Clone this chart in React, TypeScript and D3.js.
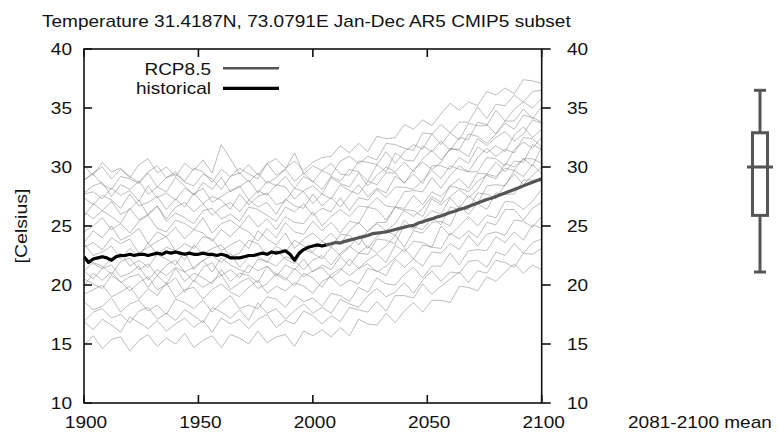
import React from "react";
import * as d3 from "d3";

const W = 778;
const H = 432;

const title = "Temperature 31.4187N, 73.0791E Jan-Dec AR5 CMIP5 subset";
const yLabel = "[Celsius]";
const boxLabel = "2081-2100 mean";
const legendLabels = ["RCP8.5", "historical"];
const xTicks = [1900, 1950, 2000, 2050, 2100];
const yTicks = [10, 15, 20, 25, 30, 35, 40];

// individual model runs, sampled every 4 years 1900..2100
const modelYears = d3.range(1900, 2101, 4);
const model01 = [30.1, 29.3, 30.4, 29.6, 29.9, 29.1, 30.2, 30.7, 29.5, 30.0, 29.2, 30.3, 29.7, 30.6, 29.5, 31.9, 30.7, 29.4, 30.2, 29.3, 30.3, 30.7, 29.9, 30.5, 29.7, 30.4, 30.8,
  30.9, 31.8, 31.2, 32.0, 31.3, 32.6, 32.4, 32.5, 33.6, 33.2, 34.0, 33.5, 34.5, 35.4, 34.8, 35.5, 35.2, 36.4, 36.1, 36.7, 36.2, 37.4, 37.3, 37.1];
const model02 = [28.9, 29.5, 30.0, 29.0, 29.8, 29.2, 28.7, 29.6, 30.1, 29.1, 29.4, 28.8, 29.9, 29.6, 28.7, 29.8, 29.2, 29.9, 29.4, 29.0, 30.3, 29.3, 29.8, 31.2, 29.4, 30.1, 29.7,
  29.3, 30.5, 30.9, 30.3, 30.9, 30.6, 32.0, 31.9, 31.6, 31.4, 32.9, 32.8, 33.6, 32.9, 33.8, 33.8, 35.1, 34.1, 35.3, 35.2, 36.1, 35.5, 36.4, 36.5];
const model03 = [28.9, 29.4, 28.5, 28.1, 29.2, 29.0, 28.6, 29.5, 28.3, 29.1, 29.6, 28.7, 28.4, 29.4, 29.0, 28.1, 29.2, 29.5, 28.7, 29.5, 28.6, 29.1, 29.8, 28.8, 29.5, 28.7, 29.7,
  30.3, 29.4, 29.3, 30.5, 30.4, 30.2, 31.3, 30.3, 31.3, 31.9, 31.5, 32.8, 31.9, 32.9, 32.3, 33.7, 33.5, 33.5, 34.8, 33.9, 34.9, 35.5, 35.0, 35.8];
const model04 = [27.8, 28.4, 28.7, 27.5, 28.5, 28.1, 28.8, 27.7, 28.3, 27.9, 29.1, 28.4, 27.6, 28.7, 28.1, 29.1, 27.9, 28.3, 28.9, 27.8, 28.8, 28.4, 29.2, 28.2, 29.2, 28.8, 28.1,
  29.2, 28.8, 29.8, 29.6, 28.8, 30.2, 29.6, 31.2, 30.6, 30.5, 31.8, 31.3, 32.2, 31.4, 32.5, 32.3, 33.8, 33.6, 32.8, 33.9, 33.9, 34.9, 34.1, 35.1];
const model05 = [27.7, 27.9, 27.3, 28.2, 27.6, 28.0, 27.1, 28.4, 27.4, 27.8, 27.2, 28.2, 27.7, 28.2, 27.0, 27.5, 28.0, 28.4, 27.2, 28.0, 27.6, 28.5, 28.3, 27.3, 28.0, 28.4, 27.7,
  29.1, 28.6, 28.3, 29.5, 28.4, 29.3, 30.0, 29.6, 30.4, 29.6, 30.7, 31.4, 30.6, 31.5, 31.5, 32.8, 32.6, 32.0, 32.8, 33.7, 33.2, 34.4, 34.2, 33.8];
const model06 = [27.4, 26.8, 27.6, 27.2, 26.5, 27.7, 26.7, 27.0, 27.5, 26.4, 27.3, 26.6, 27.8, 26.9, 27.5, 27.2, 26.4, 27.7, 26.8, 27.5, 27.8, 26.8, 27.1, 28.2, 27.9, 26.9, 27.7,
  27.3, 28.5, 28.0, 27.7, 28.8, 28.5, 29.5, 29.5, 28.6, 29.8, 30.4, 29.8, 30.4, 31.6, 31.4, 30.9, 32.4, 31.8, 32.5, 33.0, 32.2, 32.8, 34.0, 33.7];
const model07 = [25.8, 26.9, 26.3, 27.1, 26.0, 26.4, 27.2, 25.9, 26.7, 25.6, 26.6, 27.0, 26.2, 26.9, 25.9, 26.6, 27.0, 26.2, 27.2, 26.6, 27.0, 26.0, 27.3, 26.7, 26.5, 27.7, 26.7,
  27.4, 26.6, 27.6, 28.5, 27.5, 28.2, 27.8, 29.2, 28.7, 29.4, 28.6, 30.1, 30.1, 29.8, 30.8, 30.3, 31.7, 31.2, 31.8, 31.3, 32.7, 33.4, 32.5, 33.2];
const model08 = [26.2, 25.6, 26.3, 25.8, 25.2, 26.5, 25.5, 26.0, 26.7, 25.4, 26.1, 25.7, 25.2, 26.3, 26.5, 25.6, 26.0, 25.4, 26.6, 26.4, 25.9, 25.4, 26.6, 26.2, 26.9, 25.9, 26.5,
  26.2, 27.4, 26.3, 27.4, 27.2, 28.1, 27.4, 28.3, 28.3, 28.1, 28.9, 29.7, 29.0, 30.1, 29.8, 29.6, 30.8, 31.6, 30.9, 31.5, 31.2, 32.5, 32.4, 31.7];
const model09 = [24.5, 25.0, 25.7, 24.7, 25.2, 24.4, 25.4, 25.9, 24.8, 24.5, 25.5, 25.2, 24.7, 25.7, 24.4, 25.2, 25.5, 24.9, 25.9, 24.9, 25.6, 24.7, 25.8, 25.3, 25.2, 26.2, 25.0,
  25.8, 26.4, 25.8, 26.7, 26.6, 27.4, 26.7, 26.6, 27.9, 28.0, 27.9, 29.1, 28.2, 29.3, 30.1, 29.6, 29.6, 30.8, 30.7, 30.1, 31.5, 32.1, 31.6, 32.5];
const model10 = [23.6, 24.6, 24.0, 25.0, 23.8, 24.2, 24.8, 23.5, 24.5, 24.1, 24.9, 23.9, 24.7, 24.4, 23.7, 24.7, 24.1, 24.9, 24.5, 23.7, 24.8, 24.0, 25.3, 24.5, 24.3, 25.4, 24.6,
  25.3, 24.4, 25.4, 25.2, 26.6, 26.4, 25.5, 26.6, 26.5, 27.6, 26.8, 27.9, 27.5, 28.4, 29.0, 28.2, 29.5, 29.4, 30.4, 29.6, 30.5, 30.4, 31.9, 31.5];
const model11 = [23.2, 23.6, 23.0, 24.0, 23.5, 23.9, 22.7, 23.2, 23.7, 24.1, 22.9, 23.5, 23.1, 24.1, 23.9, 22.9, 23.4, 23.8, 23.1, 24.6, 23.9, 23.4, 24.4, 23.1, 23.9, 24.4, 23.7,
  24.4, 23.5, 24.6, 25.3, 24.5, 25.3, 25.3, 26.6, 26.3, 25.8, 26.5, 27.5, 27.0, 28.4, 28.2, 27.9, 28.8, 29.3, 29.0, 30.3, 30.0, 30.7, 30.1, 31.7];
const model12 = [23.5, 22.5, 22.8, 23.3, 22.2, 23.1, 22.4, 23.6, 22.6, 23.2, 22.9, 22.1, 23.4, 22.6, 23.1, 23.4, 22.4, 22.7, 23.8, 23.5, 22.5, 23.3, 22.8, 23.8, 23.3, 22.8, 23.7,
  23.2, 24.3, 24.2, 23.4, 24.6, 25.2, 24.6, 25.2, 26.4, 26.3, 25.8, 27.3, 26.8, 27.5, 28.1, 27.4, 28.1, 29.4, 29.2, 29.9, 29.7, 30.7, 30.7, 30.3];
const model13 = [22.5, 21.8, 21.4, 22.3, 22.7, 21.6, 22.1, 21.5, 22.6, 22.2, 21.7, 22.8, 21.3, 22.1, 22.5, 21.9, 22.7, 21.5, 22.4, 22.4, 21.9, 23.0, 22.2, 21.8, 23.0, 22.7, 22.2,
  23.2, 22.5, 23.2, 24.2, 23.1, 24.1, 24.6, 24.2, 25.5, 24.7, 25.5, 26.3, 26.0, 27.4, 26.5, 27.6, 26.9, 28.4, 28.5, 28.4, 29.7, 29.2, 30.2, 29.4];
const model14 = [21.2, 21.9, 21.6, 20.9, 22.0, 22.3, 21.3, 21.8, 20.8, 21.7, 22.1, 21.1, 21.5, 22.1, 21.1, 22.3, 21.7, 21.3, 21.0, 22.2, 22.0, 21.6, 22.4, 22.1, 21.3, 22.1, 22.5,
  21.7, 22.7, 23.3, 22.7, 22.6, 23.9, 23.8, 23.5, 25.1, 24.9, 24.7, 25.7, 25.1, 26.6, 26.4, 26.4, 27.8, 27.7, 27.3, 28.5, 29.4, 28.5, 29.3, 30.0];
const model15 = [21.2, 20.5, 21.4, 21.7, 20.7, 21.0, 21.6, 20.4, 21.3, 20.8, 21.5, 21.1, 20.3, 21.5, 21.9, 20.8, 21.3, 20.6, 21.7, 21.2, 21.6, 20.7, 21.7, 21.3, 22.2, 21.1, 21.7,
  21.3, 22.4, 21.6, 22.7, 23.3, 22.7, 23.3, 24.2, 23.2, 24.6, 24.4, 25.3, 25.4, 25.0, 26.7, 26.0, 26.9, 26.4, 27.8, 27.7, 27.7, 28.9, 28.9, 28.8];
const model16 = [19.9, 21.0, 20.4, 21.1, 20.2, 20.7, 20.9, 19.8, 20.8, 20.1, 21.4, 20.3, 21.0, 20.6, 20.1, 21.3, 20.3, 21.0, 20.8, 20.2, 21.6, 20.9, 20.4, 21.4, 20.7, 21.2, 21.5,
  20.6, 21.2, 22.2, 21.4, 22.1, 22.6, 21.9, 23.4, 22.8, 23.7, 23.6, 23.2, 25.0, 24.2, 25.0, 25.8, 25.0, 25.9, 25.7, 27.1, 27.0, 26.4, 27.1, 28.1];
const model17 = [20.5, 20.1, 19.7, 20.8, 20.3, 19.5, 20.2, 20.7, 19.6, 20.0, 20.6, 19.4, 20.4, 19.8, 20.3, 20.9, 19.6, 20.2, 20.6, 19.7, 20.1, 21.0, 20.6, 19.9, 21.0, 20.6, 19.8,
  20.9, 21.4, 20.8, 21.4, 21.8, 21.1, 21.6, 22.3, 23.1, 22.2, 23.4, 23.2, 23.1, 24.4, 23.9, 24.6, 24.0, 25.3, 25.1, 26.4, 26.4, 25.5, 26.5, 27.0];
const model18 = [19.2, 19.6, 20.0, 19.0, 19.4, 19.9, 18.8, 19.7, 19.1, 20.2, 18.9, 19.6, 19.8, 18.8, 19.6, 20.1, 19.4, 19.0, 19.8, 20.4, 19.3, 19.9, 19.5, 20.2, 19.9, 19.3, 20.3,
  20.7, 19.9, 20.4, 20.1, 21.4, 21.2, 20.8, 22.2, 21.5, 22.2, 21.6, 22.8, 22.7, 23.5, 23.0, 24.2, 23.3, 24.3, 24.5, 24.2, 25.5, 25.4, 24.9, 25.8];
const model19 = [18.6, 17.9, 18.2, 18.9, 17.7, 18.4, 18.7, 17.8, 18.3, 17.5, 18.8, 18.5, 18.0, 18.7, 17.7, 18.5, 19.1, 18.0, 18.3, 18.0, 19.0, 18.8, 18.1, 19.1, 18.6, 18.9, 18.2,
  19.3, 19.1, 18.6, 19.8, 19.4, 20.6, 20.1, 20.0, 20.9, 21.5, 20.6, 21.6, 21.6, 22.7, 21.7, 22.9, 23.0, 22.9, 24.1, 23.6, 24.5, 23.8, 25.1, 24.8];
const model20 = [16.9, 17.7, 18.0, 17.2, 17.5, 16.8, 17.8, 18.1, 17.1, 17.6, 17.0, 17.9, 17.4, 16.8, 18.1, 17.7, 17.2, 17.9, 17.0, 18.5, 17.6, 18.0, 17.1, 17.8, 18.4, 17.6, 18.1,
  17.6, 18.8, 18.4, 18.1, 19.1, 19.7, 19.0, 19.4, 20.2, 19.3, 20.4, 21.2, 20.3, 21.1, 21.0, 22.0, 22.1, 21.5, 22.8, 22.5, 23.5, 22.7, 23.6, 23.9];
const model21 = [16.9, 16.2, 17.1, 16.6, 16.0, 17.3, 16.8, 16.3, 17.0, 16.1, 16.7, 17.2, 16.4, 17.0, 16.0, 17.2, 16.7, 17.1, 16.3, 17.1, 17.5, 16.4, 17.0, 16.7, 17.8, 17.4, 16.7,
  17.4, 16.9, 18.1, 17.9, 17.7, 18.6, 17.8, 19.1, 19.1, 18.9, 20.1, 19.2, 19.9, 20.5, 21.1, 20.2, 21.2, 21.0, 22.1, 21.9, 21.5, 22.7, 22.6, 23.1];
const model22 = [14.9, 15.7, 14.6, 15.4, 15.6, 14.4, 15.3, 15.8, 14.8, 15.5, 15.0, 15.9, 14.7, 15.3, 15.7, 14.7, 15.8, 15.5, 15.0, 16.1, 15.1, 15.6, 15.8, 14.8, 16.1, 15.7, 16.2,
  15.6, 16.4, 15.7, 17.1, 16.7, 16.6, 17.6, 16.8, 17.8, 18.5, 17.7, 18.7, 18.7, 18.5, 19.9, 19.8, 19.5, 20.7, 20.3, 21.1, 21.8, 21.0, 21.7, 21.3];

const models = [model01, model02, model03, model04, model05, model06, model07, model08, model09, model10, model11,
  model12, model13, model14, model15, model16, model17, model18, model19, model20, model21, model22];

// multi-model means
const histYears = d3.range(1900, 2007, 2);
const histMean = [22.4, 21.9, 22.2, 22.3, 22.4, 22.3, 22.1, 22.4, 22.5, 22.5,
  22.6, 22.5, 22.6, 22.6, 22.5, 22.6, 22.7, 22.6, 22.8, 22.7,
  22.8, 22.7, 22.6, 22.7, 22.6, 22.6, 22.7, 22.6, 22.6, 22.5,
  22.6, 22.5, 22.3, 22.3, 22.3, 22.4, 22.5, 22.5, 22.6, 22.7,
  22.6, 22.8, 22.7, 22.8, 22.9, 22.6, 22.1, 22.7, 23.0, 23.2,
  23.3, 23.4, 23.3, 23.4];
const rcpYears = d3.range(2006, 2101, 2);
const rcpMean = [23.4, 23.5, 23.6, 23.55, 23.7, 23.8, 23.9, 24.0, 24.1, 24.2,
  24.35, 24.4, 24.45, 24.5, 24.6, 24.7, 24.8, 24.9, 25.0, 25.05,
  25.25, 25.35, 25.5, 25.6, 25.75, 25.85, 26.0, 26.15, 26.25, 26.4,
  26.5, 26.65, 26.8, 26.95, 27.1, 27.25, 27.35, 27.5, 27.65, 27.8,
  27.95, 28.1, 28.25, 28.4, 28.55, 28.7, 28.85, 29.0];

// 2081-2100 mean box: [low whisker, Q1, median, Q3, high whisker]
const boxValues = [21.1, 25.9, 30.0, 32.9, 36.5];

const FONT = "'Liberation Sans', Arial, Helvetica, sans-serif";
const SX = 1.12;

export default function App() {
  const x = d3.scaleLinear().domain([1900, 2100]).range([84, 541.7]);
  const y = d3.scaleLinear().domain([10, 40]).range([403, 49]);
  const line = d3
    .line<[number, number]>()
    .x((d) => x(d[0]))
    .y((d) => y(d[1]));

  const [x0, x1] = x.range();
  const [yb, yt] = y.range();
  const tickLen = 8;

  const boxX = 760;
  const [wLo, q1, med, q3, wHi] = boxValues;
  const boxColor = "#555";

  const txt = (
    s: string,
    tx: number,
    ty: number,
    anchor: string,
    size = 17,
    key?: string | number
  ) => (
    <text
      key={key}
      transform={`translate(${tx},${ty}) scale(${SX},1)`}
      textAnchor={anchor}
      fontSize={size}
      fontFamily={FONT}
      fill="#111"
    >
      {s}
    </text>
  );

  return (
    <svg
      width={W}
      height={H}
      style={{ position: "absolute", left: 0, top: 0, background: "#fff" }}
    >
      <defs>
        <clipPath id="plot">
          <rect x={x0} y={yt} width={x1 - x0} height={yb - yt} />
        </clipPath>
      </defs>
      <rect width={W} height={H} fill="#fff" />

      {txt(title, 42, 27, "start", 17)}

      <g clipPath="url(#plot)">
        {models.map((vals, i) => (
          <path
            key={i}
            d={line(vals.map((v, j) => [modelYears[j], v] as [number, number])) || ""}
            fill="none"
            stroke="#808080"
            strokeOpacity={0.62}
            strokeWidth={0.85}
            strokeLinejoin="round"
          />
        ))}
        <path
          d={line(histMean.map((v, j) => [histYears[j], v] as [number, number])) || ""}
          fill="none"
          stroke="#000"
          strokeWidth={3.2}
          strokeLinejoin="round"
        />
        <path
          d={line(rcpMean.map((v, j) => [rcpYears[j], v] as [number, number])) || ""}
          fill="none"
          stroke="#555"
          strokeWidth={3.2}
          strokeLinejoin="round"
        />
      </g>

      {/* frame */}
      <rect x={x0} y={yt} width={x1 - x0} height={yb - yt} fill="none" stroke="#111" strokeWidth={1.6} />

      {/* left ticks (inward) and labels */}
      {yTicks.map((t) => (
        <g key={"yl" + t}>
          <line x1={x0} x2={x0 + tickLen} y1={y(t)} y2={y(t)} stroke="#111" strokeWidth={1.6} />
          {txt(String(t), 72, y(t) + 6, "end", 17)}
        </g>
      ))}
      {/* right ticks (outward) and labels */}
      {yTicks.map((t) => (
        <g key={"yr" + t}>
          <line x1={x1} x2={x1 + tickLen + 1} y1={y(t)} y2={y(t)} stroke="#111" strokeWidth={1.6} />
          {txt(String(t), 567, y(t) + 6, "start", 17)}
        </g>
      ))}
      {/* x ticks (inward, top and bottom) */}
      {xTicks.map((t) => (
        <g key={"x" + t}>
          <line x1={x(t)} x2={x(t)} y1={yb} y2={yb - tickLen} stroke="#111" strokeWidth={1.6} />
          <line x1={x(t)} x2={x(t)} y1={yt} y2={yt + tickLen} stroke="#111" strokeWidth={1.6} />
          {txt(String(t), x(t) + 2, 428, "middle", 17)}
        </g>
      ))}

      {/* y label */}
      <text
        transform={`translate(27,226) rotate(-90) scale(1.15,1)`}
        textAnchor="middle"
        fontSize={17}
        fontFamily={FONT}
        fill="#111"
      >
        {yLabel}
      </text>

      {/* legend */}
      {txt(legendLabels[0], 211, 75, "end", 17)}
      <line x1={223} x2={279} y1={68.3} y2={68.3} stroke="#555" strokeWidth={2.6} />
      {txt(legendLabels[1], 211, 94, "end", 17)}
      <line x1={223} x2={279} y1={88.3} y2={88.3} stroke="#000" strokeWidth={3.2} />

      {/* box plot of 2081-2100 means */}
      <g stroke={boxColor} strokeWidth={3}>
        <line x1={boxX} x2={boxX} y1={y(wLo)} y2={y(wHi)} />
        <line x1={boxX - 6} x2={boxX + 6} y1={y(wLo)} y2={y(wLo)} />
        <line x1={boxX - 6} x2={boxX + 6} y1={y(wHi)} y2={y(wHi)} />
        <rect x={boxX - 7.5} y={y(q3)} width={15} height={y(q1) - y(q3)} fill="#fff" />
        <line x1={boxX - 13} x2={boxX + 13} y1={y(med)} y2={y(med)} />
      </g>
      {txt(boxLabel, 628, 428, "start", 17)}
    </svg>
  );
}
